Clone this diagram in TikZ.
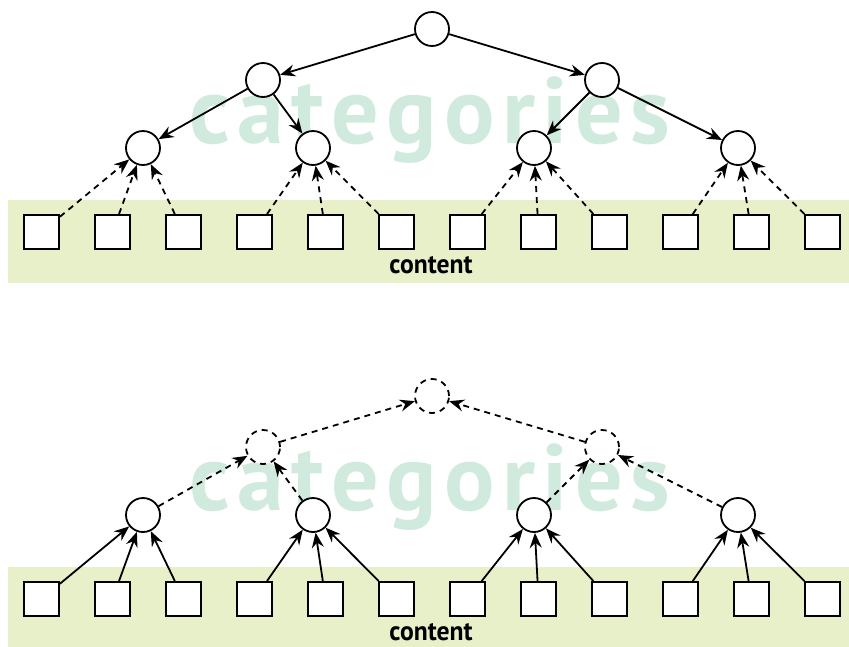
\documentclass[tikz,border=0pt]{standalone}
\usepackage{fontspec}
\setmainfont{PT Sans}
\newfontfamily\wmfont[LetterSpace=8]{PT Sans}
\usetikzlibrary{arrows.meta}
\definecolor{band}{RGB}{232,240,202}
\definecolor{wm}{RGB}{208,234,222}
\tikzset{
  cnode/.style={circle,draw,line width=1.8pt,fill=white,minimum size=34pt,inner sep=0pt},
  dnode/.style={cnode,dashed,dash pattern=on 6pt off 5pt},
  snode/.style={rectangle,draw,line width=2pt,fill=white,minimum width=35pt,minimum height=34pt,inner sep=0pt},
  sarr/.style={line width=1.8pt,-{Stealth[length=15pt,width=12pt,inset=5pt]}},
  darr/.style={sarr,dash pattern=on 6pt off 5pt},
  wmark/.style={text=wm,font=\wmfont\bfseries\fontsize{94}{94}\selectfont,anchor=base,inner sep=0pt},
  clabel/.style={font=\bfseries\fontsize{27}{27}\selectfont,anchor=base,inner sep=0pt,xscale=0.95}
}
\begin{document}
\begin{tikzpicture}[x=1pt,y=-1pt]
\useasboundingbox (0,0) rectangle (849,646);
% ---------- top ----------
\fill[band] (8,200) rectangle (849,283);
\node[wmark] (wm1) at (430,143) {categories};
\node[clabel] (c1) at (431,273) {content};
\node[cnode] (r) at (432,29) {};
\node[cnode] (a) at (263,80) {};
\node[cnode] (b) at (602,80) {};
\node[cnode] (a1) at (143,148) {};
\node[cnode] (a2) at (313,148) {};
\node[cnode] (b1) at (534,148) {};
\node[cnode] (b2) at (738,148) {};
\foreach \i in {1,...,12}{
  \node[snode] (s\i) at ({41.5+71*(\i-1)},232) {};
}
\draw[sarr] (r) -- (a);
\draw[sarr] (r) -- (b);
\draw[sarr] (a) -- (a1);
\draw[sarr] (a) -- (a2);
\draw[sarr] (b) -- (b1);
\draw[sarr] (b) -- (b2);
\foreach \i in {1,2,3}{\draw[darr] (s\i) -- (a1);}
\foreach \i in {4,5,6}{\draw[darr] (s\i) -- (a2);}
\foreach \i in {7,8,9}{\draw[darr] (s\i) -- (b1);}
\foreach \i in {10,11,12}{\draw[darr] (s\i) -- (b2);}
% ---------- bottom ----------
\begin{scope}[yshift=-367pt]
\fill[band] (8,200) rectangle (849,283);
\node[wmark] (wm2) at (430,143) {categories};
\node[clabel] (c2) at (431,273) {content};
\node[dnode] (R) at (432,29) {};
\node[dnode] (A) at (263,80) {};
\node[dnode] (B) at (602,80) {};
\node[cnode] (A1) at (143,148) {};
\node[cnode] (A2) at (313,148) {};
\node[cnode] (B1) at (534,148) {};
\node[cnode] (B2) at (738,148) {};
\foreach \i in {1,...,12}{
  \node[snode] (t\i) at ({41.5+71*(\i-1)},232) {};
}
\draw[darr] (A) -- (R);
\draw[darr] (B) -- (R);
\draw[darr] (A1) -- (A);
\draw[darr] (A2) -- (A);
\draw[darr] (B1) -- (B);
\draw[darr] (B2) -- (B);
\foreach \i in {1,2,3}{\draw[sarr] (t\i) -- (A1);}
\foreach \i in {4,5,6}{\draw[sarr] (t\i) -- (A2);}
\foreach \i in {7,8,9}{\draw[sarr] (t\i) -- (B1);}
\foreach \i in {10,11,12}{\draw[sarr] (t\i) -- (B2);}
\end{scope}
\end{tikzpicture}
\end{document}
